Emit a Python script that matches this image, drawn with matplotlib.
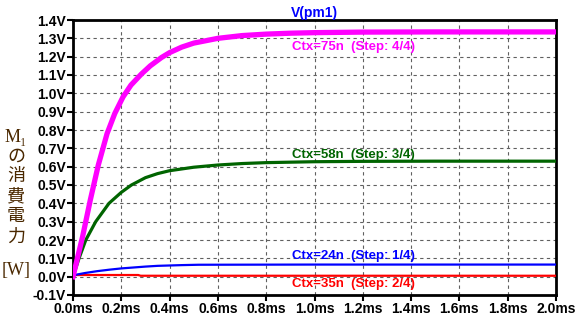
import numpy as np
import matplotlib.pyplot as plt

# time points (ms) and read-off values (V)
t_mag = [0.0, 0.02, 0.04, 0.072, 0.105, 0.141, 0.173, 0.207, 0.24, 0.283, 0.32, 0.366, 0.4, 0.45, 0.5, 0.6, 0.7, 0.8, 0.9, 1.0, 1.2, 1.5, 2.0]
v_mag = [0.0, 0.11, 0.22, 0.42, 0.61, 0.78, 0.89, 0.98, 1.045, 1.105, 1.15, 1.195, 1.222, 1.252, 1.274, 1.30, 1.315, 1.323, 1.328, 1.331, 1.334, 1.335, 1.335]

t_grn = [0.0, 0.025, 0.053, 0.094, 0.149, 0.2, 0.242, 0.3, 0.35, 0.4, 0.5, 0.6, 0.7, 0.8, 1.0, 1.2, 1.5, 2.0]
v_grn = [0.0, 0.10, 0.20, 0.30, 0.40, 0.46, 0.50, 0.54, 0.562, 0.578, 0.597, 0.609, 0.617, 0.622, 0.627, 0.629, 0.63, 0.63]

t_blu = [0.0, 0.01, 0.05, 0.1, 0.15, 0.2, 0.25, 0.3, 0.35, 0.45, 0.52, 1.0, 2.0]
v_blu = [0.0, 0.01, 0.02, 0.03, 0.038, 0.045, 0.05, 0.055, 0.059, 0.063, 0.065, 0.066, 0.066]

t_red = [0.0, 0.01, 0.27, 0.28, 1.0, 2.0]
v_red = [0.0, 0.009, 0.009, 0.005, 0.005, 0.005]

labels = ["Ctx=75n  (Step: 4/4)", "Ctx=58n  (Step: 3/4)", "Ctx=24n  (Step: 1/4)", "Ctx=35n  (Step: 2/4)"]

fig = plt.figure(figsize=(5.78, 3.26), dpi=100)
ax = fig.add_axes([73/578, 1-295/326, (556-73)/578, (295-20)/326])

ax.plot(t_red, v_red, color='#ff0000', lw=1.6, zorder=3)
ax.plot(t_blu, v_blu, color='#0000ff', lw=1.6, zorder=3)
ax.plot(t_grn, v_grn, color='#006400', lw=2.3, zorder=4)
ax.plot(t_mag, v_mag, color='#ff00ff', lw=3.8, zorder=5)

ax.set_xlim(0, 2.0)
ax.set_ylim(-0.1, 1.4)
xt = np.round(np.arange(0, 2.01, 0.2), 1)
yt = np.round(np.arange(-0.1, 1.41, 0.1), 1)
ax.set_xticks(xt)
ax.set_yticks(yt)
tf = dict(fontsize=10, fontweight='bold', family='Liberation Sans')
ax.set_xticklabels([f"{x:.1f}ms" for x in xt], **tf)
ax.set_yticklabels([f"{y:.1f}V" for y in yt], **tf)
ax.tick_params(direction='out', length=4, width=1.5, pad=1)
ax.grid(True, color='#606060', ls=(0, (3, 3)), lw=0.8)
for s in ax.spines.values():
    s.set_linewidth(2)

ax.set_title("V(pm1)", color='#0000ff', fontsize=10, fontweight='bold', family='Liberation Sans', pad=2)

# step labels
lf = dict(fontsize=9.5, fontweight='bold', family='Liberation Sans', va='center', zorder=6)
ax.text(0.905, 1.252, labels[0], color='#ff00ff', **lf)
ax.text(0.905, 0.665, labels[1], color='#006400', **lf)
ax.text(0.905, 0.112, labels[2], color='#0000ff', **lf)
ax.text(0.905, -0.042, labels[3], color='#ff0000', **lf)

# stacked y label
ylab_col = '#4a2800'
chars = ["M\u2081", "の", "消", "費", "電", "力"]
ys = [137, 157, 177, 197, 217, 237]
for c, y in zip(chars, ys):
    fig.text(16/578, 1-y/326, c, color=ylab_col, fontsize=13, ha='center', va='center',
             family=['Liberation Serif', 'Noto Sans CJK JP', 'DejaVu Serif'])
fig.text(16/578, 1-271/326, "[W]", color=ylab_col, fontsize=13, ha='center', va='center', family='Liberation Serif')

fig.savefig('out.png', dpi=100)
